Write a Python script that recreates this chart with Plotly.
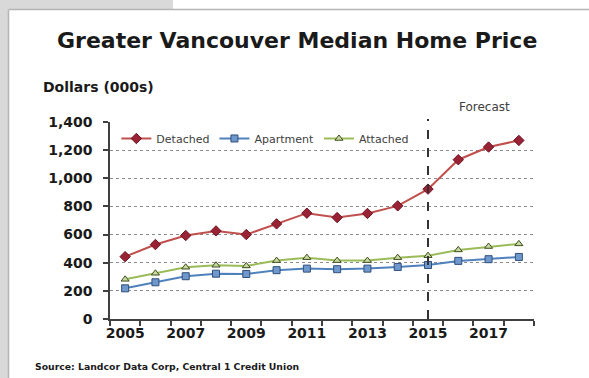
import plotly.graph_objects as go

years = list(range(2005, 2019))
detached = [443, 529, 593, 626, 600, 676, 752, 721, 750, 804, 923, 1132, 1222, 1269]
apartment = [218, 261, 304, 322, 320, 347, 358, 354, 358, 370, 384, 413, 425, 441]
attached = [282, 325, 368, 382, 377, 415, 436, 415, 415, 436, 450, 491, 515, 534]
y_ticks = [0, 200, 400, 600, 800, 1000, 1200, 1400]
x_labels = [2005, 2007, 2009, 2011, 2013, 2015, 2017]
forecast_start = 2015

W, H = 589, 378
L, R, T, B = 110, 55, 122, 59
PW, PH = W - L - R, H - T - B


def px(x):
    return (x - L) / PW


def py(y):
    return (H - B - y) / PH


bold_font = "DejaVu Sans"
fig = go.Figure()

series = [
    ("Detached", detached, "#c0504d", "#6e1424", "#9a2235", "diamond", 8),
    ("Apartment", apartment, "#4f81bd", "#2f4f7a", "#6f98cc", "square", 7),
    ("Attached", attached, "#9bbb59", "#3f4d1c", "#c6d9a0", "triangle-up", 7),
]
for name, vals, line_c, mk_line, fill, sym, size in series:
    fig.add_trace(go.Scatter(
        x=years, y=vals, name=name, mode="lines+markers",
        line=dict(color=line_c, width=2),
        marker=dict(symbol=sym, size=size, color=fill,
                    line=dict(color=mk_line, width=1)),
    ))

shapes = [
    # grey page surround
    dict(type="rect", xref="paper", yref="paper", x0=px(0), x1=px(8),
         y0=py(0), y1=py(H), fillcolor="#d9d9d9", line_width=0, layer="below"),
    dict(type="rect", xref="paper", yref="paper", x0=px(0), x1=px(173),
         y0=py(0), y1=py(9), fillcolor="#d9d9d9", line_width=0, layer="below"),
    dict(type="line", xref="paper", yref="paper", x0=px(8.5), x1=px(8.5),
         y0=py(9.5), y1=py(H), line=dict(color="#b5b5b5", width=1.5)),
    dict(type="line", xref="paper", yref="paper", x0=px(8.5), x1=px(W),
         y0=py(9.5), y1=py(9.5), line=dict(color="#b5b5b5", width=1.5)),
    # forecast divider
    dict(type="line", xref="x", yref="paper", x0=forecast_start, x1=forecast_start,
         y0=0, y1=py(119), line=dict(color="#333333", width=2, dash="dash")),
]

fig.update_layout(
    width=W, height=H,
    margin=dict(l=L, r=R, t=T, b=B),
    paper_bgcolor="white", plot_bgcolor="white",
    shapes=shapes,
    showlegend=True,
    legend=dict(orientation="h", x=0.015, y=0.99, xanchor="left", yanchor="top",
                bgcolor="rgba(0,0,0,0)", font=dict(family=bold_font, size=11, color="#404040"),
                itemwidth=30, tracegroupgap=0),
    annotations=[
        dict(text="<b>Greater Vancouver Median Home Price</b>", xref="paper", yref="paper",
             x=px(297), y=py(40), showarrow=False, xanchor="center", yanchor="middle",
             font=dict(family=bold_font, size=22, color="#1a1a1a")),
        dict(text="<b>Dollars (000s)</b>", xref="paper", yref="paper",
             x=px(41), y=py(87), showarrow=False, xanchor="left", yanchor="middle",
             font=dict(family=bold_font, size=14, color="#1a1a1a")),
        dict(text="Forecast", xref="paper", yref="paper",
             x=px(484), y=py(107), showarrow=False, xanchor="center", yanchor="middle",
             font=dict(family=bold_font, size=12, color="#404040")),
        dict(text="<b>Source: Landcor Data Corp, Central 1 Credit Union</b>", xref="paper",
             yref="paper", x=px(33), y=py(366), showarrow=False, xanchor="left",
             yanchor="middle", font=dict(family=bold_font, size=9.3, color="#1a1a1a")),
    ],
    xaxis=dict(
        range=[2004.5, 2018.5], tickvals=x_labels, ticktext=[f"<b>{v}</b>" for v in x_labels],
        ticks="", showgrid=False, zeroline=False,
        showline=True, linecolor="#404040", linewidth=1.5,
        tickfont=dict(family=bold_font, size=14, color="#1a1a1a"),
        minor=dict(tickvals=[y + 0.5 for y in range(2004, 2019)], ticks="outside",
                   ticklen=5, tickcolor="#404040", tickwidth=1.5, showgrid=False),
        fixedrange=True,
    ),
    yaxis=dict(
        range=[0, 1400], tickvals=y_ticks, ticktext=[f"<b>{v:,}</b>" for v in y_ticks],
        ticks="outside", ticklen=5, tickcolor="#404040", tickwidth=1.5,
        showline=True, linecolor="#404040", linewidth=1.5,
        showgrid=True, gridcolor="#8c8c8c", griddash="dot", gridwidth=1,
        zeroline=False, ticklabelstandoff=8,
        tickfont=dict(family=bold_font, size=14, color="#1a1a1a"),
        fixedrange=True,
    ),
)

fig.write_html("out.html")
